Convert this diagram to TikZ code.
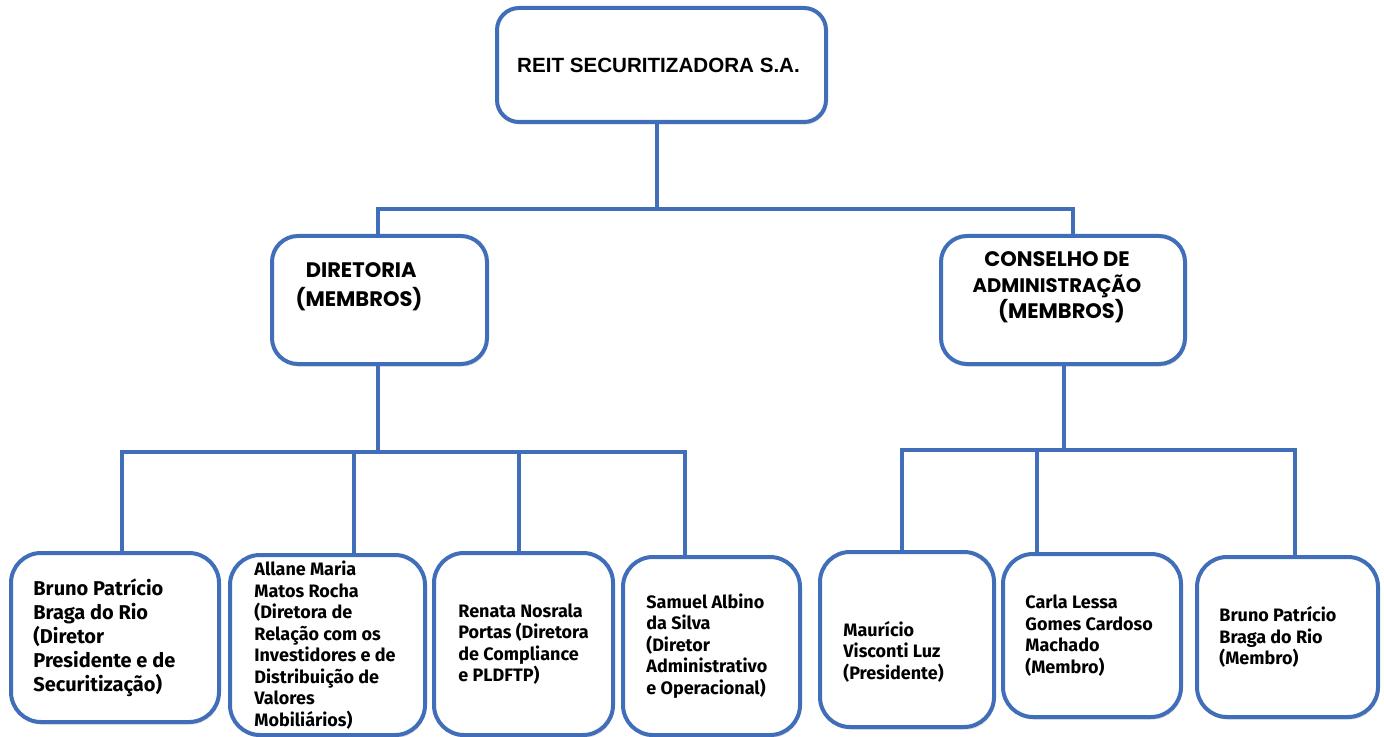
\documentclass[tikz,border=0pt]{standalone}
\usepackage{fontspec}
\setmainfont{Fira Sans}
\newfontfamily\popfont{Poppins}
\newfontfamily\libfont{Liberation Sans}
\usetikzlibrary{shadows}
\definecolor{orgblue}{RGB}{64,110,185}
\begin{document}
\begin{tikzpicture}[x=0.5pt,y=-0.5pt,
  box/.style={draw=orgblue, line width=2pt, fill=white, rounded corners=#1,
    inner sep=0pt, drop shadow={opacity=0.28, shadow xshift=0.6pt, shadow yshift=-1.3pt}},
  box/.default=11pt,
  conn/.style={draw=orgblue, line width=2pt},
  ptext/.style={anchor=west, align=left, inner sep=0pt, font=\bfseries\fontsize{9}{10.75}\selectfont},
  htext/.style={align=center, inner sep=0pt},
]
\fill[white] (0,0) rectangle (1384,737);
\useasboundingbox (0,0) rectangle (1384,737);

% header boxes
\node[box=11pt, minimum width=164.5pt, minimum height=57pt] (top) at (661.5,65) {};
\node[htext, font=\libfont\bfseries\fontsize{10.3}{12}\selectfont] (toptext) at (658.5,65) {REIT SECURITIZADORA S.A.};

\node[box=13pt, minimum width=107.5pt, minimum height=64pt] (dir) at (379.5,300) {};
\node[htext, font=\popfont\bfseries\fontsize{10.5}{14.5}\selectfont] (dirtext) at (359,287) {\ DIRETORIA\\(MEMBROS)};

\node[box=13pt, minimum width=122pt, minimum height=64pt] (cons) at (1063,300) {};
\node[htext, font=\popfont\bfseries\fontsize{10.5}{13}\selectfont] (constext) at (1057,287) {CONSELHO DE\\\fontsize{9.8}{13}\selectfont ADMINISTRAÇÃO\\\ \ (MEMBROS)};

% person boxes
\node[box=15pt, minimum width=104pt, minimum height=84.5pt] (p1) at (115,637.5) {};
\node[box=15pt, minimum width=97.5pt, minimum height=90pt] (p2) at (327.5,645) {};
\node[box=15pt, minimum width=89.5pt, minimum height=91pt] (p3) at (523.5,644) {};
\node[box=15pt, minimum width=88.5pt, minimum height=89pt] (p4) at (711.5,646) {};
\node[box=15pt, minimum width=87pt, minimum height=87.5pt] (p5) at (907,639.5) {};
\node[box=15pt, minimum width=89pt, minimum height=81.5pt] (p6) at (1092,635.5) {};
\node[box=15pt, minimum width=90.5pt, minimum height=80pt] (p7) at (1287.5,637) {};

\node[ptext, font=\bfseries\fontsize{10}{12}\selectfont] (t1) at ([xshift=12pt]p1.west) {Bruno Patrício\\Braga do Rio\\(Diretor\\Presidente e de\\Securitização)};
\node[ptext] (t2) at ([xshift=13pt]p2.west) {Allane Maria\\Matos Rocha\\(Diretora de\\Relação com os\\Investidores e de\\Distribuição de\\Valores\\Mobiliários)};
\node[ptext] (t3) at ([xshift=13pt]p3.west) {Renata Nosrala\\Portas (Diretora\\de Compliance\\e PLDFTP)};
\node[ptext] (t4) at ([xshift=12.5pt]p4.west) {Samuel Albino\\da Silva\\(Diretor\\Administrativo\\e Operacional)};
\node[ptext] (t5) at ([xshift=12.5pt,yshift=-6pt]p5.west) {Maurício\\Visconti Luz\\(Presidente)};
\node[ptext] (t6) at ([xshift=12pt]p6.west) {Carla Lessa\\Gomes Cardoso\\Machado\\(Membro)};
\node[ptext] (t7) at ([xshift=12pt]p7.west) {Bruno Patrício\\Braga do Rio\\(Membro)};

% connectors: top level
\coordinate (b0m) at (657,209);
\coordinate (b0l) at (378,209);
\coordinate (b0r) at (1073,209);
\draw[conn] (top.south -| b0m) -- (b0m);
\draw[conn] (dir.north -| b0l) |- (b0r) -- (cons.north -| b0r);

% diretoria bus
\coordinate (b1m) at (378,452);
\coordinate (d1) at (122,452);
\coordinate (d2) at (354,452);
\coordinate (d3) at (519,452);
\coordinate (d4) at (685,452);
\draw[conn] (dir.south -| b1m) -- (b1m);
\draw[conn] (p1.north -| d1) |- (d4) -- (p4.north -| d4);
\draw[conn] (d2) -- (p2.north -| d2);
\draw[conn] (d3) -- (p3.north -| d3);

% conselho bus
\coordinate (b2m) at (1064,450);
\coordinate (e1) at (902,450);
\coordinate (e2) at (1037,450);
\coordinate (e3) at (1295,450);
\draw[conn] (cons.south -| b2m) -- (b2m);
\draw[conn] (p5.north -| e1) |- (e3) -- (p7.north -| e3);
\draw[conn] (e2) -- (p6.north -| e2);
\end{tikzpicture}
\end{document}
